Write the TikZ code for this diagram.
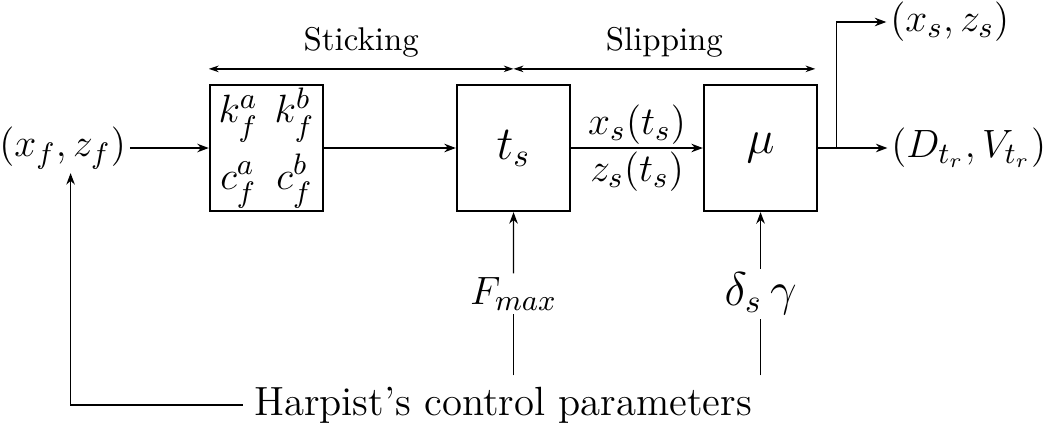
\documentclass[tikz,border=0pt]{standalone}
\usepackage{amsmath,amssymb}
\usepackage{tikz}
\usetikzlibrary{arrows.meta, positioning, calc}

\begin{document}
\begin{tikzpicture}[
    x=0.304pt, y=-0.304pt,
    node distance=40pt,
    blk/.style={draw, line width=0.7pt, minimum width=34.4pt, minimum height=38.3pt, inner sep=0pt, align=center, font=\Large},
    lbl/.style={inner sep=1pt, font=\fontsize{13}{15}\selectfont},
    arr/.style={-{Stealth[length=3.5pt, width=2.6pt]}, line width=0.4pt},
    span/.style={{Stealth[length=3pt, width=2pt]}-{Stealth[length=3pt, width=2pt]}, line width=0.4pt}
  ]
    \useasboundingbox (0,0) rectangle (1046,429);
    \node[blk, font=\fontsize{13}{15}\selectfont] (kc) at (266.5,148) {$\begin{array}{@{}c@{\hspace{5pt}}c@{}} k_f^a & k_f^b\\[5pt] c_f^a & c_f^b\end{array}$};
    \node[blk, right=of kc] (ts) {$t_s$};
    \node[blk, right=of ts] (mu) {$\mu$};
    \node[lbl, left=24pt of kc] (xf) {$(x_f,z_f)$};
    \node[lbl, right=21pt of mu] (dv) {$(D_{t_r},V_{t_r})$};
    \coordinate (br) at ($(mu.east)+(18,0)$);
    \node[lbl, anchor=west] (xs) at ($(br)+(50,-126)$) {$(x_s,z_s)$};
    \node[font=\fontsize{12.4}{15}\selectfont] (harp) at (503,405) {Harpist's control parameters};
    \node[lbl] (fmax) at ($(ts.south)!0.5!(ts.south |- harp.north)$) {$F_{max}$};
    \node[lbl, font=\Large] (dg) at (mu.south |- fmax) {$\delta_s\,\gamma$};
    \coordinate (s1) at ($(kc.north west)+(0,-15)$);
    \coordinate (s2) at (ts.north |- s1);
    \coordinate (s3) at ($(mu.north east |- s1)+(-3,0)$);
    \draw[span] (s1) -- node[above] (stick) {Sticking} (s2);
    \draw[span] (s2) -- node[above] (slip) {Slipping} (s3);
    \draw[arr] (xf) -- (kc);
    \draw[arr] (kc) -- (ts);
    \draw[arr] (ts) -- node[lbl, above] (xst) {$x_s(t_s)$} node[lbl, below] (zst) {$z_s(t_s)$} (mu);
    \draw[arr] (mu) -- (dv);
    \draw[arr] (br) |- (xs);
    \draw (harp.north -| fmax) -- (fmax.south);
    \draw[arr] (fmax.north) -- (ts.south);
    \draw (harp.north -| mu) -- (dg.south -| mu);
    \draw[arr] (dg.north -| mu) -- (mu.south);
    \draw[arr] (harp.west) -| ($(xf.south)+(8,0)$);
  \end{tikzpicture}
\end{document}
